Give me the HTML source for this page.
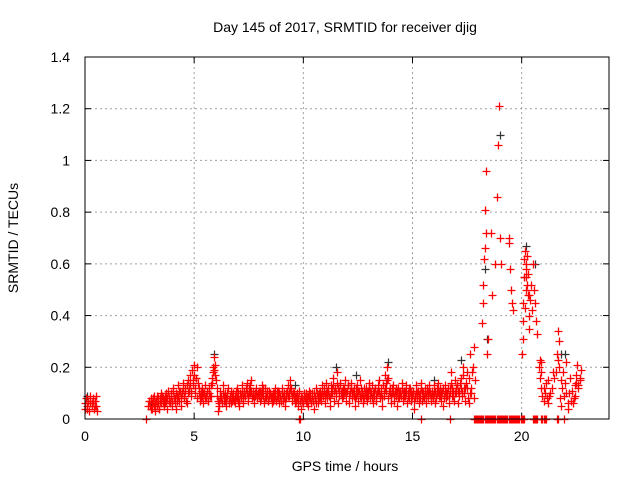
<!DOCTYPE html>
<html><head><meta charset="utf-8"><style>
body{margin:0;background:#fff}
svg{display:block;font-family:"Liberation Sans",sans-serif}
</style></head><body>
<svg id="chart" width="640" height="480" xmlns="http://www.w3.org/2000/svg">
<text x="345" y="32" text-anchor="middle" font-size="14">Day 145 of 2017, SRMTID for receiver djig</text>
<text x="345" y="471" text-anchor="middle" font-size="14">GPS time / hours</text>
<text transform="translate(18,238) rotate(-90)" text-anchor="middle" font-size="14">SRMTID / TECUs</text>
<g id="grid"></g>
<g id="axes"></g>
<g id="black" stroke="#333" stroke-width="1.2"></g>
<g id="red" stroke="#f00" stroke-width="1.3"></g>
<rect x="85" y="57" width="524" height="362" fill="none" stroke="#000" stroke-width="1"/>
</svg>
<script>
const xTicks=[0,5,10,15,20];
const yTicks=[0,0.2,0.4,0.6,0.8,1,1.2,1.4];
const yTickLabels=["0","0.2","0.4","0.6","0.8","1","1.2","1.4"];
const baseStart=2.9, baseStep=0.05;
const baseValues=[.05,.07,.04,.06,.08,.05,.03,.07,.09,.06,.04,.08,.10,.06,.05,.09,.07,.04,.11,.08,
.06,.10,.05,.12,.08,.04,.09,.13,.07,.11,.05,.10,.14,.08,.12,.06,.15,.11,.17,.09,
.19,.13,.21,.10,.16,.08,.12,.07,.11,.09,.06,.10,.13,.08,.11,.07,.12,.09,.14,.18,
.24,.21,.15,.09,.03,.06,.11,.08,.13,.07,.10,.05,.09,.12,.06,.08,.11,.07,.10,.06,
.09,.12,.07,.05,.10,.08,.13,.06,.11,.09,.14,.07,.12,.10,.15,.08,.11,.06,.09,.12,
.08,.11,.07,.10,.13,.09,.06,.12,.08,.10,.07,.11,.09,.06,.10,.08,.12,.07,.09,.11,
.06,.09,.12,.07,.10,.05,.08,.11,.13,.09,.15,.12,.07,.10,.06,.09,.08,.05,.11,.07,
.04,.08,.06,.10,.07,.09,.05,.11,.08,.06,.10,.07,.04,.09,.12,.06,.08,.11,.07,.13,
.09,.12,.06,.14,.08,.11,.05,.13,.10,.16,.07,.12,.09,.18,.06,.11,.14,.08,.12,.10,
.15,.07,.11,.13,.06,.10,.14,.08,.12,.05,.09,.13,.07,.11,.15,.08,.10,.06,.12,.09,
.07,.11,.14,.08,.10,.13,.06,.09,.12,.07,.11,.15,.08,.10,.05,.13,.09,.17,.11,.20,
.08,.12,.06,.10,.13,.07,.11,.09,.05,.12,.08,.10,.14,.07,.11,.09,.13,.06,.10,.08,
.12,.07,.10,.04,.09,.13,.08,.11,.06,.10,.14,.07,.09,.12,.06,.11,.08,.13,.10,.07,
.11,.08,.13,.06,.10,.14,.09,.12,.07,.11,.05,.09,.13,.08,.10,.06,.12,.18,.09,.11,
.07,.15,.10,.13,.06,.11,.16,.09,.20,.12,.07,.14];
const baseValues2=[.07,.05,.08,.04,.06,.09,.06,.05,.08,.04,.07,.06,.09,.08,.07,.06,.10,.08,.07,.06,
.09,.07,.11,.08,.06,.10,.07,.09,.11,.08,.10,.12,.09,.11,.07,.13,.10,.12,.14,.11,
.15,.17,.12,.16,.20,.14,.10,.09,.08,.12,.10,.08,.09,.11,.07,.10,.09,.13,.16,.20,
.19,.17,.12,.07,.05,.08,.09,.06,.10,.09,.07,.08,.10,.07,.09,.06,.09,.08,.07,.09,
.11,.08,.10,.07,.09,.11,.08,.10,.09,.12,.10,.09,.10,.13,.11,.09,.08,.10,.11,.09,
.10,.09,.11,.08,.10,.12,.08,.09,.11,.07,.09,.10,.08,.09,.07,.10,.09,.11,.08,.10,
.09,.07,.10,.09,.08,.07,.10,.09,.10,.12,.11,.09,.10,.08,.09,.07,.10,.08,.07,.09,
.07,.06,.09,.08,.10,.06,.09,.08,.10,.09,.07,.10,.08,.06,.10,.09,.10,.08,.09,.11,
.11,.09,.10,.11,.12,.09,.08,.10,.12,.13,.11,.10,.14,.12,.09,.13,.10,.11,.09,.12,
.11,.10,.13,.09,.11,.12,.10,.11,.09,.08,.12,.10,.11,.09,.12,.11,.09,.08,.10,.12,
.10,.09,.12,.11,.08,.10,.11,.12,.09,.10,.13,.11,.09,.12,.08,.10,.12,.14,.15,.16,
.11,.10,.09,.12,.10,.09,.12,.11,.08,.10,.11,.09,.12,.10,.09,.11,.10,.09,.12,.11,
.10,.09,.11,.07,.08,.11,.10,.09,.08,.12,.11,.10,.08,.10,.09,.12,.10,.11,.08,.10,
.09,.10,.11,.08,.12,.11,.10,.09,.10,.12,.08,.11,.10,.09,.12,.09,.10,.14,.12,.09,
.10,.12,.13,.11,.09,.14,.12,.10,.17,.10,.12,.18];
const earlyTimes=[0.0,0.05,0.1,0.15,0.2,0.25,0.3,0.35,0.4,0.45,0.5,0.55,0.1,0.3,0.45,0.02,0.22,0.38,0.52];
const earlyValues=[.06,.08,.04,.07,.03,.09,.05,.08,.04,.07,.09,.03,.05,.06,.05,.04,.06,.07,.05];
const lateTimes=[17.55,17.6,17.65,17.7,17.75,17.8,17.85,17.6,17.7,18.2,18.22,18.25,18.28,18.3,18.32,18.35,18.38,18.4,18.45,18.6,18.8,18.85,18.9,18.95,19.0,19.05,18.65,19.4,19.45,19.5,19.55,19.6,19.4,
20.0,20.05,20.08,20.1,20.12,20.15,20.18,20.2,20.22,20.25,20.28,20.3,20.32,20.35,20.4,20.45,20.5,20.55,20.6,20.65,20.7,20.05,20.15,20.25,
20.8,20.85,20.9,20.95,21.0,21.05,21.1,21.15,21.2,21.3,21.4,21.5,21.6,21.7,21.75,21.8,21.85,21.9,21.95,22.0,22.05,22.1,22.15,22.2,22.3,22.4,22.45,22.5,22.55,22.6,22.65,22.7,21.65,21.72,22.1,22.5,20.9,21.2,21.45,22.25,
17.5,17.62,17.72,17.82,20.82,20.88,21.02,21.25,21.55,21.68,21.82,22.02,22.35,22.42,22.58,22.68,20.22,20.35,20.48];
const lateValues=[.08,.16,.25,.12,.20,.28,.15,.06,.10,.37,.45,.52,.62,.66,.81,.96,.72,.25,.31,.72,.60,.86,1.06,1.21,.70,.60,.48,.68,.58,.50,.45,.42,.70,
.25,.38,.45,.55,.62,.65,.58,.50,.60,.52,.48,.56,.40,.35,.46,.52,.60,.50,.45,.38,.33,.31,.43,.63,
.20,.16,.12,.09,.07,.10,.14,.08,.06,.10,.12,.16,.25,.20,.08,.05,.12,.18,.09,.14,.22,.06,.10,.16,.11,.08,.13,.17,.21,.12,.15,.19,.34,.30,.04,.14,.22,.15,.18,.07,
.12,.10,.18,.08,.23,.18,.12,.09,.18,.23,.15,.10,.06,.09,.13,.16,.55,.48,.42];
const zeroTimes=[2.8,9.8,9.85,15.4,16.7,17.8,17.85,17.9,17.95,18.0,18.05,18.1,18.15,18.2,18.25,18.3,18.35,18.4,18.45,18.5,18.55,18.6,18.65,18.7,18.75,18.8,18.85,18.9,18.95,19.0,19.05,19.1,19.15,19.2,19.25,19.3,19.35,19.4,19.45,19.5,19.55,19.6,19.65,19.7,19.75,19.8,19.85,19.9,19.95,20.0,20.05,20.1,20.5,20.55,20.6,20.65,20.7,20.9,20.95,21.0,21.05,21.1,21.6,21.65,21.95];
const blackTimes=[5.9,11.5,13.9,17.2,19.0,18.3,18.4,20.2,20.6,21.8,22.0,20.1,0.1,3.0,9.6,16.0,12.4];
const blackValues=[.25,.20,.22,.23,1.10,.58,.31,.67,.60,.25,.25,.55,.09,.07,.13,.15,.17];

const X0=85,X1=609,Y0=419,Y1=57;
const xs=t=>X0+(X1-X0)*t/24;
const ys=v=>Y0-(Y0-Y1)*v/1.4;
const NS="http://www.w3.org/2000/svg";
function mk(tag,parent,attrs){const e=document.createElementNS(NS,tag);for(const k in attrs)e.setAttribute(k,attrs[k]);parent.appendChild(e);return e;}
const grid=document.getElementById('grid'),axes=document.getElementById('axes');
xTicks.forEach(t=>{const x=xs(t);
 if(t>0){const g=mk('line',grid,{x1:x,x2:x,y1:Y0,y2:Y1,stroke:'#a0a0a0','stroke-dasharray':'2,3'});
 }
 const a=mk('line',axes,{x1:x,x2:x,y1:Y0,y2:Y0-6,stroke:'#000'});
 const b=mk('line',axes,{x1:x,x2:x,y1:Y1,y2:Y1+6,stroke:'#000'});
 const l=mk('text',axes,{x:x,y:Y0+22,'text-anchor':'middle','font-size':'14'});l.textContent=String(t);
 });
yTicks.forEach((v,i)=>{const y=ys(v);
 if(v>0&&v<1.4){const g=mk('line',grid,{x1:X0,x2:X1,y1:y,y2:y,stroke:'#a0a0a0','stroke-dasharray':'2,3'});
 }
 const a=mk('line',axes,{x1:X0,x2:X0+6,y1:y,y2:y,stroke:'#000'});
 const b=mk('line',axes,{x1:X1,x2:X1-6,y1:y,y2:y,stroke:'#000'});
 const l=mk('text',axes,{x:X0-15,y:y+5,'text-anchor':'end','font-size':'14'});l.textContent=yTickLabels[i];
 });
function plus(g,t,v){const x=Math.round(xs(t))+0.5,y=Math.round(ys(v))+0.5;
 const p=mk('path',g,{d:`M${x-4},${y}h8M${x},${y-4}v8`});
 
 }
const blk=document.getElementById('black'),red=document.getElementById('red');
blackTimes.forEach((t,i)=>plus(blk,t,blackValues[i]));
baseValues.forEach((v,i)=>plus(red,baseStart+i*baseStep,v));
baseValues2.forEach((v,i)=>plus(red,baseStart+0.025+i*baseStep,v));
earlyTimes.forEach((t,i)=>plus(red,t,earlyValues[i]));
lateTimes.forEach((t,i)=>plus(red,t,lateValues[i]));
zeroTimes.forEach(t=>plus(red,t,0));
</script>
</body></html>
